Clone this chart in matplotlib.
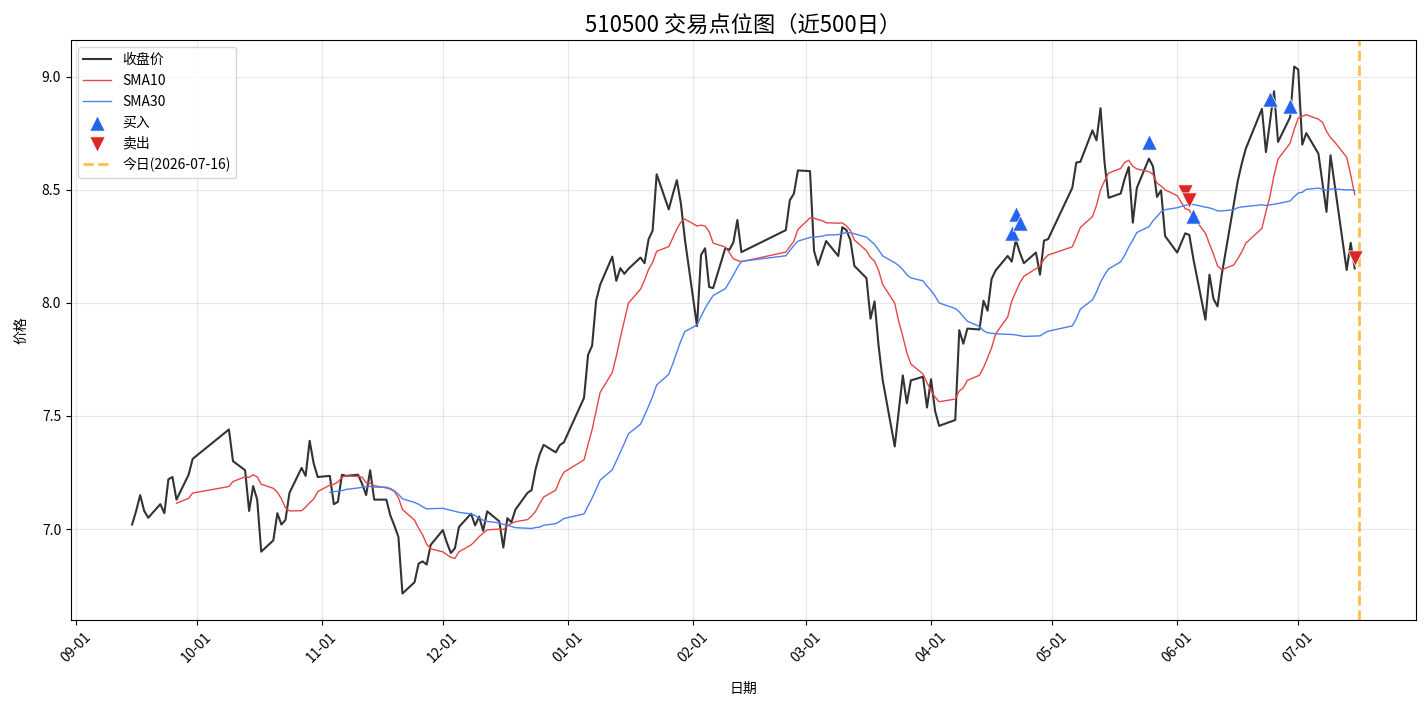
import numpy as np
import matplotlib
matplotlib.use('Agg')
import matplotlib.pyplot as plt
import matplotlib.dates as mdates
import pandas as pd

plt.rcParams['font.family'] = ['Noto Sans CJK SC', 'DejaVu Sans']
plt.rcParams['axes.unicode_minus'] = False

# 交易日 (工作日去掉节假日)
start_date = '2025-09-15'
end_date = '2026-07-15'
holidays = ['2025-10-01', '2025-10-02', '2025-10-03', '2025-10-06', '2025-10-07', '2025-10-08',
            '2026-01-01', '2026-01-02',
            '2026-02-16', '2026-02-17', '2026-02-18', '2026-02-19', '2026-02-20', '2026-02-23',
            '2026-04-06', '2026-05-01', '2026-05-04', '2026-05-05', '2026-06-19']

# 收盘价, 按月
close_sep = [7.02, 7.08, 7.15, 7.08, 7.05, 7.11, 7.07, 7.22, 7.23, 7.13, 7.24, 7.31]
close_oct = [7.44, 7.30, 7.26, 7.08, 7.19, 7.13, 6.90, 6.95, 7.07, 7.02, 7.04, 7.16,
             7.27, 7.235, 7.39, 7.29, 7.23]
close_nov = [7.235, 7.11, 7.12, 7.24, 7.235, 7.24, 7.20, 7.15, 7.26, 7.13, 7.13, 7.06,
             7.015, 6.965, 6.715, 6.765, 6.847, 6.857, 6.843, 6.93]
close_dec = [6.995, 6.94, 6.894, 6.915, 7.009, 7.068, 7.016, 7.055, 6.992, 7.078, 7.034,
             6.918, 7.048, 7.03, 7.086, 7.16, 7.172, 7.265, 7.33, 7.372, 7.339, 7.371, 7.383]
close_jan = [7.58, 7.77, 7.81, 8.01, 8.08, 8.204, 8.097, 8.153, 8.128, 8.15, 8.20, 8.175,
             8.281, 8.319, 8.568, 8.413, 8.48, 8.542, 8.439, 8.28]
close_feb = [7.897, 8.212, 8.241, 8.07, 8.065, 8.241, 8.234, 8.266, 8.366, 8.224,
             8.321, 8.453, 8.482, 8.585]
close_mar = [8.582, 8.23, 8.167, 8.22, 8.273, 8.207, 8.334, 8.322, 8.278, 8.163, 8.109,
             7.93, 8.006, 7.81, 7.66, 7.365, 7.52, 7.679, 7.556, 7.657, 7.673, 7.537]
close_apr = [7.662, 7.522, 7.456, 7.482, 7.879, 7.819, 7.886, 7.882, 8.009, 7.965, 8.105,
             8.143, 8.207, 8.182, 8.278, 8.222, 8.175, 8.222, 8.124, 8.275, 8.281]
close_may = [8.508, 8.62, 8.623, 8.762, 8.718, 8.86, 8.62, 8.464, 8.483, 8.549, 8.60,
             8.354, 8.508, 8.637, 8.603, 8.468, 8.497, 8.295]
close_jun = [8.222, 8.265, 8.307, 8.30, 8.195, 7.925, 8.124, 8.017, 7.984, 8.12, 8.433,
             8.537, 8.615, 8.681, 8.857, 8.666, 8.80, 8.935, 8.711, 8.821, 9.044]
close_jul = [9.031, 8.699, 8.75, 8.659, 8.53, 8.402, 8.652, 8.525, 8.145, 8.265, 8.152]

# 买卖点
buy_dates = ['2026-04-21', '2026-04-22', '2026-04-23', '2026-05-25', '2026-06-05',
             '2026-06-24', '2026-06-29']
buy_prices = [8.307, 8.392, 8.354, 8.711, 8.384, 8.902, 8.872]
sell_dates = ['2026-06-03', '2026-06-04', '2026-07-15']
sell_prices = [8.49, 8.454, 8.197]

today = '2026-07-16'

close = (close_sep + close_oct + close_nov + close_dec + close_jan + close_feb
         + close_mar + close_apr + close_may + close_jun + close_jul)
dates = pd.bdate_range(start_date, end_date)
dates = dates[~dates.isin(pd.to_datetime(holidays))]
assert len(dates) == len(close), (len(dates), len(close))

df = pd.DataFrame({'close': close}, index=dates)
df['sma10'] = df['close'].rolling(10).mean()
df['sma30'] = df['close'].rolling(30).mean()

fig, ax = plt.subplots(figsize=(14.28, 7.06), dpi=100)
fig.subplots_adjust(left=0.0497, right=0.9915, top=0.943, bottom=0.122)

ax.plot(df.index, df['close'], color='#333333', lw=1.5, label='收盘价')
ax.plot(df.index, df['sma10'], color='#e84545', lw=1.0, label='SMA10')
ax.plot(df.index, df['sma30'], color='#4c7ff0', lw=1.0, label='SMA30')
ax.scatter(pd.to_datetime(buy_dates), buy_prices, marker='^', s=120, color='#2563eb',
           edgecolors='white', linewidths=0.5, zorder=5, label='买入')
ax.scatter(pd.to_datetime(sell_dates), sell_prices, marker='v', s=120, color='#dc2626',
           edgecolors='white', linewidths=0.5, zorder=5, label='卖出')
ax.axvline(pd.Timestamp(today), color='orange', ls='--', lw=2, alpha=0.7,
           label=f'今日({today})')

ax.set_title('510500 交易点位图（近500日）', fontsize=16)
ax.set_xlabel('日期', labelpad=12)
ax.set_ylabel('价格', labelpad=10)
ax.xaxis.set_major_locator(mdates.MonthLocator())
ax.xaxis.set_major_formatter(mdates.DateFormatter('%m-%d'))
plt.setp(ax.get_xticklabels(), rotation=45)
ax.grid(True, alpha=0.3)
ax.legend(loc='upper left')

fig.savefig('out.png', dpi=100)
